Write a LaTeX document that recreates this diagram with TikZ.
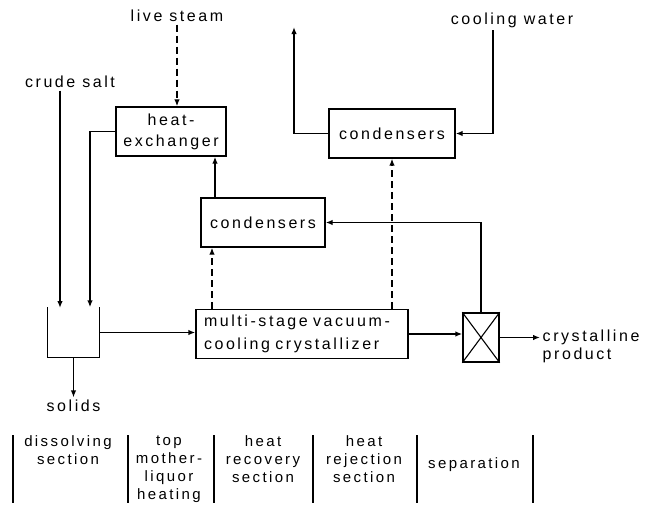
\documentclass[tikz,border=0pt]{standalone}
\usepackage{fontspec}
\setmainfont{Liberation Sans}[LetterSpace=16]
\usetikzlibrary{arrows.meta, positioning}

\begin{document}
\begin{tikzpicture}[x=1pt, y=-1pt, line width=1.4pt,
  font=\fontsize{16}{18}\selectfont,
  box/.style={draw, minimum width=#1, minimum height=49pt, inner sep=0pt,
    align=center, font=\fontsize{16}{21}\selectfont},
  box/.default=110pt,
  lbl/.style={inner sep=2pt, align=center},
  sect/.style={lbl, font=\fontsize{15}{18}\selectfont},
  arr/.style={-{Latex[length=7pt, width=5.5pt]}},
  vapour/.style={dash pattern=on 7pt off 4pt, line width=1.3pt}
]
\useasboundingbox (0,0) rectangle (650,506);

% units
\node[box=110pt] (hx) at (171,131.5) {heat-\\exchanger};
\node[box=126pt] (cond1) at (392,133.5) {condensers};
\node[box=124pt] (cond2) at (263,222.5) {condensers};
\node[box=212pt, align=left, text width=196pt, font=\fontsize{16}{23}\selectfont]
  (cryst) at (302,334) {multi-stage vacuum-\\cooling crystallizer};
\node[draw, minimum width=36pt, minimum height=49pt, inner sep=0pt] (sep) at (481,337.5) {};
\draw[line width=1.1pt] (sep.north west) -- (sep.south east) (sep.north east) -- (sep.south west);
\node[minimum width=51pt, minimum height=49pt, inner sep=0pt] (diss) at (73.5,332.5) {};
\draw (diss.north west) -- (diss.south west) -- (diss.south east) -- (diss.north east);

% streams in and out
\node[lbl] (steam) at (177,16) {live steam};
\node[lbl] (crude) at (70,82) {crude salt};
\node[lbl] (water) at (512,20) {cooling water};
\node[lbl] (solids) at (73.5,406) {solids};
\node[lbl, anchor=west, align=left] (prod) at (540,346) {crystalline\\product};
\coordinate (saltin) at (60,308);
\coordinate (vent) at (294,27);

\draw[arr, vapour] (steam) -- (steam |- hx.north);
\draw[arr] (crude.south -| saltin) -- (saltin);
\draw[arr] (hx.west) -| ([xshift=16.5pt]diss.north);
\draw[arr] (diss.east) -- (diss.east -| cryst.west);
\draw[arr] (diss.south) -- (solids);
\draw[arr] (cryst.east) -- (cryst.east -| sep.west);
\draw[arr] (sep.east) -- (sep.east -| prod.west);
\draw[arr] (sep.north) |- (cond2.east);
\draw[arr] ([xshift=-48pt]cond2.north) -- ([xshift=44pt]hx.south);
\draw[arr, vapour] ([xshift=-90pt]cryst.north) -- ([xshift=-51pt]cond2.south);
\draw[arr, vapour] ([xshift=90pt]cryst.north) -- (cond1.south);
\draw[arr] (cond1.west) -| (vent);
\draw[arr] ([xshift=-19pt]water.south) |- (cond1.east);

% sections
\foreach \x in {13,128,214,313,417,533}
  \draw (\x,435) -- (\x,503);
\node[sect, anchor=north] (sec1) at (68,433) {dissolving\\section};
\node[sect, anchor=north] (sec2) at (169,433) {top\\mother-\\liquor\\heating};
\node[sect, anchor=north] (sec3) at (263,433) {heat\\recovery\\section};
\node[sect, anchor=north] (sec4) at (364,433) {heat\\rejection\\section};
\node[sect] (sec5) at (474,465) {separation};
\end{tikzpicture}
\end{document}
